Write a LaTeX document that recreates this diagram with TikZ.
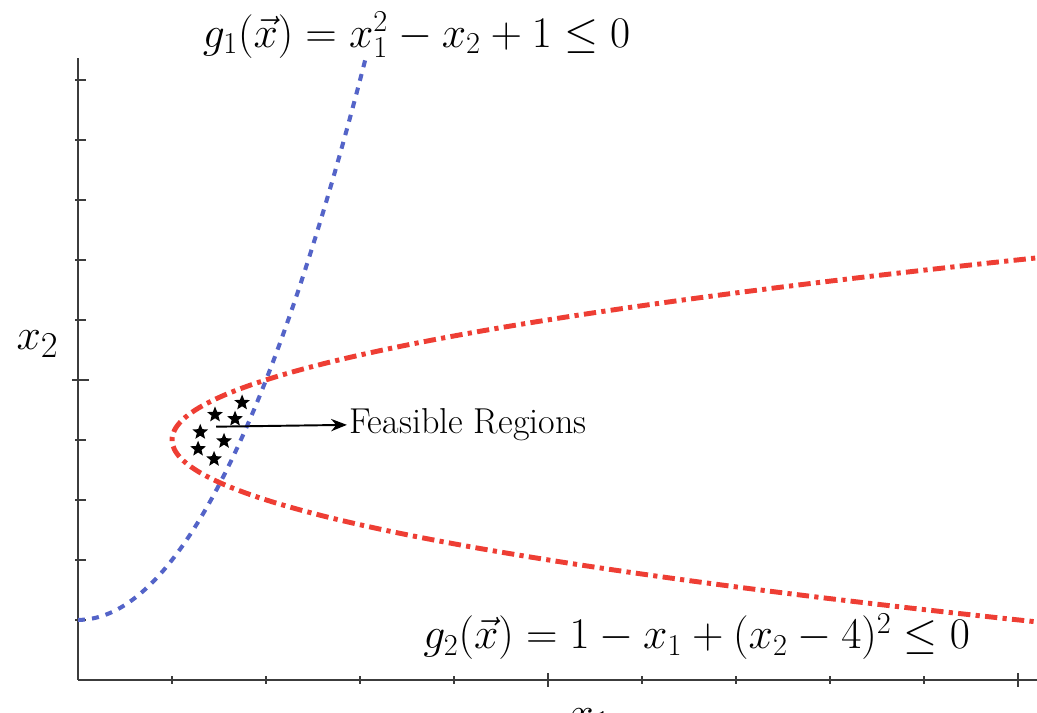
\documentclass[tikz,border=0pt]{standalone}
\usepackage{xcolor}
\usepackage{tikz}
\usetikzlibrary{shapes.geometric, positioning, arrows.meta}
\usepackage{amsmath}
\definecolor{GBlue}{RGB}{84,100,200}
\definecolor{GRed}{RGB}{238,62,52}
\definecolor{AxGray}{RGB}{60,60,60}

\begin{document}
\begin{tikzpicture}[x=1.88cm, y=1.2cm,
          axis/.style={draw=AxGray, line width=1.4pt},
          tick/.style={draw=AxGray, line width=1.2pt},
          gone/.style={draw=GBlue, line width=2.3pt, dash pattern=on 4pt off 4pt},
          gtwo/.style={draw=GRed, line width=2.8pt, dash pattern=on 7pt off 3pt on 2.4pt off 3pt},
          starmark/.style={star, star points=5, star point ratio=2.3, fill=black,
                      inner sep=0pt, minimum size=0.33cm},
          lbl/.style={font=\fontsize{23}{27}\selectfont},
          arr/.style={-{Stealth[length=9pt, width=7pt]}, draw=black, line width=1.1pt}
        ]
        \useasboundingbox (-0.83,-0.55) rectangle (10.2,11.33);

        \draw[axis] (0,0) -- (0,10.37);
        \draw[axis] (0,0) -- (10.5,0);
        \foreach \k in {1,...,10}
          \draw[tick] (-0.03,\k) -- (0.09,\k);
        \draw[tick] (-0.06,5) -- (0.12,5);
        \foreach \k in {1,...,10}
          \draw[tick] (\k,-0.06) -- (\k,0.06);
        \draw[tick] (5,-0.11) -- (5,0.11);
        \draw[tick] (10,-0.11) -- (10,0.11);

        \draw[gone] plot[domain=0:3.06, samples=80, smooth] (\x, {\x*\x+1});
        \begin{scope}
          \clip (-0.83,-0.55) rectangle (10.2,11.33);
          \draw[gtwo] plot[domain=0.85:7.15, samples=100, smooth] ({1+(\x-4)*(\x-4)}, \x);
        \end{scope}

        \node[starmark] (s1) at (1.745,4.62) {};
        \node[starmark] (s2) at (1.457,4.42) {};
        \node[starmark] (s3) at (1.67,4.35)  {};
        \node[starmark] (s4) at (1.30,4.13)  {};
        \node[starmark] (s5) at (1.553,3.98) {};
        \node[starmark] (s6) at (1.277,3.85) {};
        \node[starmark] (s7) at (1.447,3.68) {};

        \coordinate (fr) at (1.47,4.22);
        \node[font=\fontsize{20.5}{24}\selectfont, anchor=west, inner sep=1pt]
              (feas) at (2.86,4.25) {Feasible Regions};
        \draw[arr] (fr) -- (feas.west);

        \node[lbl] (gonel) at (3.6,10.75)
              {$g_1(\vec{x}) = x_1^2 - x_2 + 1 \leq 0$};
        \node[lbl] (gtwol) at (6.58,0.72)
              {$g_2(\vec{x}) = 1 - x_1 + (x_2-4)^2 \leq 0$};
        \node[font=\fontsize{31}{36}\selectfont] (xtwo) at (-0.43,5.6) {$x_2$};
        \node[font=\fontsize{31}{36}\selectfont, anchor=north] (xone) at (5.45,-0.37) {$x_1$};
      \end{tikzpicture}
\end{document}
